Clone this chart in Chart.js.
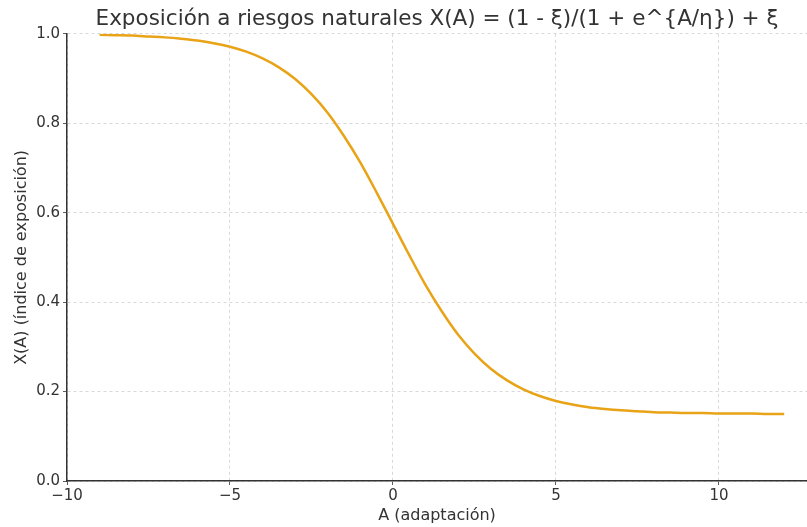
<!DOCTYPE html>
<html>
<head>
<meta charset="utf-8">
<script src="https://cdn.jsdelivr.net/npm/chart.js@4"></script>
<style>
  html, body { margin: 0; padding: 0; background: #fff; }
  #wrap { width: 807px; height: 527px; }
</style>
</head>
<body>
<div id="wrap"><canvas id="chart" width="807" height="527"></canvas></div>
<script>
// adaptation values (x) and exposure index
const adaptacion = [
  -9, -8.5, -8, -7.5, -7, -6.5, -6, -5.5, -5, -4.5, -4, -3.5, -3, -2.5, -2, -1.5, -1, -0.5,
  0, 0.5, 1, 1.5, 2, 2.5, 3, 3.5, 4, 4.5, 5, 5.5, 6, 6.5, 7, 7.5, 8, 8.5, 9, 9.5, 10, 10.5, 11, 11.5, 12
];
const exposicion = [
  0.998, 0.997, 0.996, 0.994, 0.992, 0.989, 0.985, 0.979, 0.971, 0.960, 0.945, 0.925, 0.899, 0.865, 0.823, 0.771, 0.712, 0.645,
  0.575, 0.505, 0.438, 0.379, 0.327, 0.285, 0.251, 0.225, 0.205, 0.190, 0.179, 0.171, 0.165, 0.161, 0.158, 0.156, 0.154, 0.153, 0.152, 0.152, 0.151, 0.151, 0.151, 0.150, 0.150
];
const xTicks = [-10, -5, 0, 5, 10];
const yTicks = [0.0, 0.2, 0.4, 0.6, 0.8, 1.0];

const font = 'DejaVu Sans';
const textColor = '#333';

const points = adaptacion.map((a, i) => ({ x: a, y: exposicion[i] }));

new Chart(document.getElementById('chart').getContext('2d'), {
  type: 'line',
  data: {
    datasets: [{
      data: points,
      borderColor: '#e8a317',
      borderWidth: 2.5,
      pointRadius: 0,
      cubicInterpolationMode: 'monotone',
      fill: false
    }]
  },
  options: {
    responsive: false,
    animation: false,
    layout: { padding: { left: 0, right: 0, top: 0, bottom: 0 } },
    plugins: {
      legend: { display: false },
      tooltip: { enabled: false },
      title: {
        display: true,
        fullSize: false,
        text: 'Exposición a riesgos naturales X(A) = (1 - ξ)/(1 + e^{A/η}) + ξ',
        color: textColor,
        font: { family: font, size: 21.5, weight: 'normal' },
        padding: { top: 7, bottom: 1 }
      }
    },
    scales: {
      x: {
        type: 'linear',
        min: -10,
        max: 12.7,
        afterFit: s => { s.height = 46; },
        afterBuildTicks: s => { s.ticks = xTicks.map(v => ({ value: v })); },
        ticks: {
          color: textColor,
          font: { family: font, size: 15 },
          padding: 2,
          maxRotation: 0,
          callback: v => String(v).replace('-', '\u2212')
        },
        grid: { color: '#cfcfcf', lineWidth: 0.8, tickColor: '#333', tickLength: 4, tickBorderDash: [] },
        border: { display: true, color: '#333', width: 1.5, dash: [3, 3] },
        title: {
          display: true,
          text: 'A (adaptación)',
          color: textColor,
          font: { family: font, size: 16 },
          padding: { top: 2, bottom: 2 }
        }
      },
      y: {
        min: 0,
        max: 1,
        afterFit: s => { s.width = 67; },
        afterBuildTicks: s => { s.ticks = yTicks.map(v => ({ value: v })); },
        ticks: {
          color: textColor,
          font: { family: font, size: 15 },
          padding: 3,
          callback: v => v.toFixed(1)
        },
        grid: { color: '#cfcfcf', lineWidth: 0.8, tickColor: '#333', tickLength: 4, tickBorderDash: [] },
        border: { display: true, color: '#333', width: 1.5, dash: [3, 3] },
        title: {
          display: true,
          text: 'X(A) (índice de exposición)',
          color: textColor,
          font: { family: font, size: 16 },
          padding: { top: 12, bottom: 0 }
        }
      }
    }
  }
});
</script>
</body>
</html>
